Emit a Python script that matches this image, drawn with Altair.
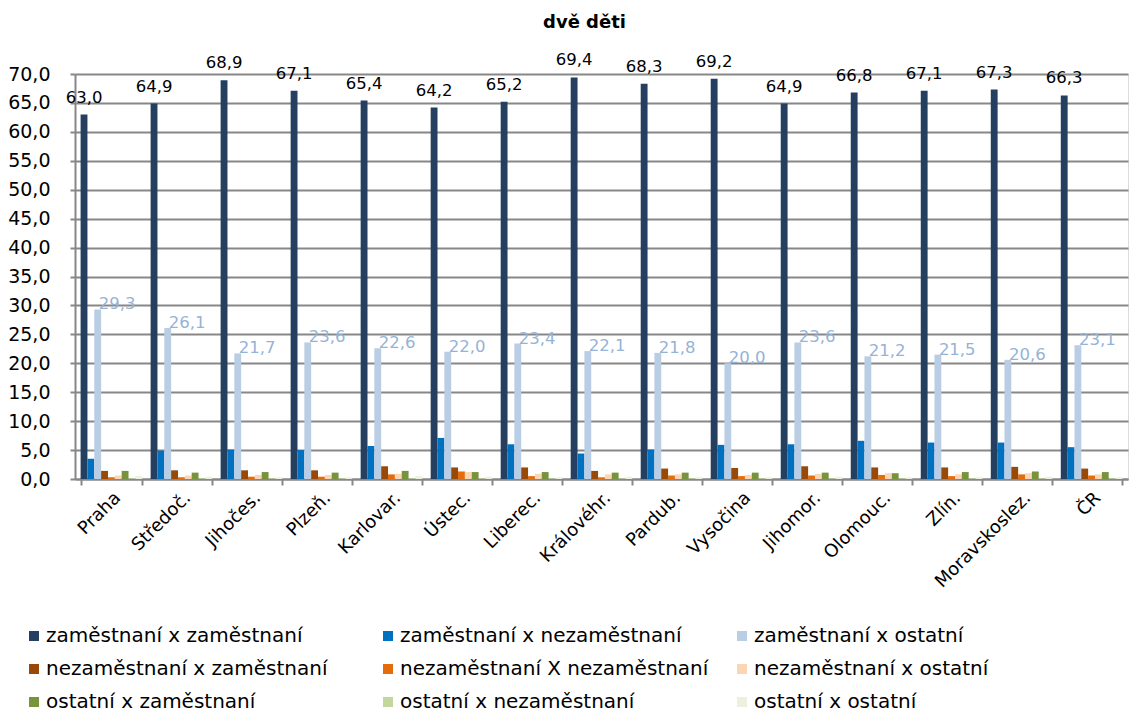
import altair as alt
import pandas as pd

categories = ["Praha", "Středoč.", "Jihočes.", "Plzeň.", "Karlovar.", "Ústec.", "Liberec.",
              "Královéhr.", "Pardub.", "Vysočina", "Jihomor.", "Olomouc.", "Zlín.",
              "Moravskoslez.", "ČR"]

series_names = [
    "zaměstnaní x zaměstnaní",
    "zaměstnaní x nezaměstnaní",
    "zaměstnaní x ostatní",
    "nezaměstnaní x zaměstnaní",
    "nezaměstnaní X nezaměstnaní",
    "nezaměstnaní x ostatní",
    "ostatní x zaměstnaní",
    "ostatní x nezaměstnaní",
    "ostatní x ostatní",
]

zz = [63.0, 64.9, 68.9, 67.1, 65.4, 64.2, 65.2, 69.4, 68.3, 69.2, 64.9, 66.8, 67.1, 67.3, 66.3]
zn = [3.5, 4.9, 5.1, 5.0, 5.7, 7.1, 6.0, 4.4, 5.1, 5.9, 6.0, 6.6, 6.3, 6.3, 5.5]
zo = [29.3, 26.1, 21.7, 23.6, 22.6, 22.0, 23.4, 22.1, 21.8, 20.0, 23.6, 21.2, 21.5, 20.6, 23.1]
nz = [1.4, 1.5, 1.5, 1.5, 2.2, 2.0, 2.0, 1.4, 1.8, 1.9, 2.2, 2.0, 2.0, 2.1, 1.8]
nn = [0.3, 0.3, 0.4, 0.4, 0.8, 1.3, 0.5, 0.3, 0.6, 0.5, 0.6, 0.7, 0.5, 0.8, 0.6]
no = [0.6, 0.6, 0.7, 0.7, 0.9, 1.2, 0.9, 0.8, 0.8, 0.7, 0.9, 1.0, 0.8, 1.0, 0.8]
oz = [1.4, 1.1, 1.2, 1.1, 1.4, 1.2, 1.2, 1.1, 1.1, 1.1, 1.1, 1.0, 1.2, 1.3, 1.2]
on = [0.1, 0.1, 0.1, 0.1, 0.1, 0.1, 0.1, 0.1, 0.1, 0.1, 0.1, 0.1, 0.1, 0.1, 0.1]
oo = [0.5, 0.4, 0.3, 0.3, 0.5, 0.4, 0.3, 0.4, 0.3, 0.3, 0.4, 0.3, 0.3, 0.4, 0.3]

colors = ["#243F60", "#0070C0", "#B9CDE5", "#984807", "#E46C0A", "#FCD5B5",
          "#77933C", "#C3D69B", "#EBF1DE"]

all_series = [zz, zn, zo, nz, nn, no, oz, on, oo]
rows = []
for name, vals in zip(series_names, all_series):
    for c, v in zip(categories, vals):
        rows.append({"kraj": c, "serie": name, "hodnota": v})
df = pd.DataFrame(rows)

FONT = "DejaVu Sans"
GRID = "#878787"

x_enc = alt.X("kraj:N", sort=categories, title=None,
              scale=alt.Scale(paddingInner=0.12, paddingOuter=0.08),
              axis=alt.Axis(labelAngle=-45, labelFontSize=18, labelFont=FONT,
                            labelColor="#000000", labelAlign="right",
                            labelBaseline="middle", labelPadding=10, labelOffset=6,
                            labelOverlap=False, labelLimit=0,
                            tickBand="extent", ticks=True, tickSize=6,
                            tickColor=GRID, tickWidth=2, domainColor=GRID,
                            domainWidth=2, grid=False))
xo_enc = alt.XOffset("serie:N", scale=alt.Scale(domain=series_names, paddingInner=0, paddingOuter=0))
y_enc = alt.Y("hodnota:Q", title=None,
              scale=alt.Scale(domain=[0, 70], nice=False),
              axis=alt.Axis(values=list(range(0, 71, 5)),
                            labelExpr="replace(format(datum.value, '.1f'), '.', ',')",
                            labelFontSize=19, labelFont=FONT, labelColor="#000000",
                            labelOverlap=False, labelPadding=20,
                            tickSize=5, tickColor=GRID, tickWidth=2,
                            domainColor=GRID, domainWidth=2,
                            grid=True, gridColor=GRID, gridWidth=2))

bars = alt.Chart(df).mark_bar().encode(
    x=x_enc,
    xOffset=xo_enc,
    y=y_enc,
    color=alt.Color("serie:N",
                    scale=alt.Scale(domain=series_names, range=colors),
                    legend=alt.Legend(title=None, orient="none", legendX=-51, legendY=552,
                                      columns=3, direction="horizontal", gridAlign="all",
                                      columnPadding=23, rowPadding=13,
                                      symbolType="square", symbolSize=100,
                                      symbolStrokeWidth=0, symbolOffset=0,
                                      labelFontSize=20, labelFont=FONT,
                                      labelColor="#000000", labelLimit=0, labelOffset=2)),
)

lab1 = alt.Chart(df).transform_filter(
    alt.datum.serie == series_names[0]
).transform_calculate(
    txt="replace(format(datum.hodnota, '.1f'), '.', ',')"
).mark_text(baseline="bottom", dy=-9, fontSize=16.5, font=FONT, color="#000000").encode(
    x=x_enc,
    xOffset=xo_enc,
    y=y_enc,
    text="txt:N",
)

lab3 = alt.Chart(df).transform_filter(
    alt.datum.serie == series_names[2]
).transform_calculate(
    txt="replace(format(datum.hodnota, '.1f'), '.', ',')"
).mark_text(align="left", baseline="bottom", dx=1, dy=3, fontSize=16.5, font=FONT,
            color="#95B3D7").encode(
    x=x_enc,
    xOffset=xo_enc,
    y=y_enc,
    text="txt:N",
)

chart = alt.layer(bars, lab1, lab3).properties(
    width=1053,
    height=405,
    title=alt.TitleParams("dvě děti", fontSize=18, font=FONT, fontWeight="bold",
                          anchor="middle", dx=-17, offset=20, color="#000000"),
    autosize=alt.AutoSizeParams(type="none"),
    padding={"left": 67, "top": 66, "right": 6, "bottom": 240},
).configure_view(stroke=None).configure(background="#FFFFFF")

chart.save("out.html", embed_options={"renderer": "svg", "actions": False})
